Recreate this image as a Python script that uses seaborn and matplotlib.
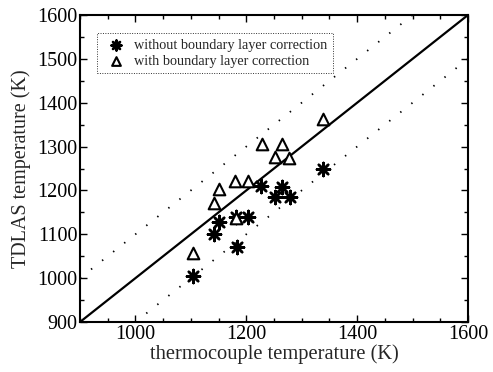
import matplotlib
matplotlib.use("Agg")
import matplotlib.pyplot as plt
import seaborn as sns
import pandas as pd
import numpy as np
from matplotlib.ticker import MultipleLocator, FixedLocator

# data
tc_without = [1103, 1141, 1151, 1182, 1203, 1183, 1227, 1264, 1251, 1278, 1339]
tdlas_without = [1005, 1100, 1129, 1140, 1140, 1072, 1209, 1207, 1184, 1184, 1249]
tc_with = [1103, 1141, 1151, 1180, 1203, 1182, 1228, 1264, 1251, 1277, 1339]
tdlas_with = [1057, 1171, 1203, 1221, 1221, 1136, 1307, 1306, 1277, 1275, 1363]
ref_x = [900, 1600]
band = 100
label_without = "without boundary layer correction"
label_with = "with boundary layer correction"

sns.set_theme(style="ticks")
plt.rcParams['font.family'] = ['Liberation Serif', 'DejaVu Serif']

fig = plt.figure(figsize=(4.93, 3.72), dpi=100)
ax = fig.add_axes([80/493, 1 - 322/372, (468-80)/493, (322-15)/372])

df_wo = pd.DataFrame({"x": tc_without, "y": tdlas_without})
df_w = pd.DataFrame({"x": tc_with, "y": tdlas_with})

rx = np.array(ref_x)
ax.plot(rx, rx, color="black", lw=1.6, zorder=2)
ax.plot(rx, rx + band, color="black", lw=1.3, ls=(0, (0.8, 7)), zorder=2)
ax.plot(rx, rx - band, color="black", lw=1.3, ls=(0, (0.8, 7)), zorder=2)

sns.scatterplot(data=df_wo, x="x", y="y", ax=ax, marker=(8, 2, 0), s=90,
                color="black", edgecolor="black", linewidth=1.8,
                label=label_without, zorder=3)
sns.scatterplot(data=df_w, x="x", y="y", ax=ax, marker="^", s=70,
                facecolor="white", edgecolor="black", linewidth=1.5,
                label=label_with, zorder=3)

ax.set_xlim(900, 1600)
ax.set_ylim(900, 1600)
ax.xaxis.set_major_locator(FixedLocator([1000, 1200, 1400, 1600]))
ax.xaxis.set_minor_locator(MultipleLocator(50))
ax.yaxis.set_major_locator(MultipleLocator(100))
ax.yaxis.set_minor_locator(MultipleLocator(50))
ax.tick_params(which="both", direction="in", top=True, right=True,
               colors="black", labelsize=14.5, width=1)
ax.tick_params(which="major", length=5, pad=2)
ax.tick_params(which="minor", length=3)
for s in ax.spines.values():
    s.set_linewidth(1.5)
    s.set_color("black")

ax.set_xlabel("thermocouple temperature (K)", fontsize=14.8, labelpad=0)
ax.set_ylabel("TDLAS temperature (K)", fontsize=14.5, labelpad=4)

leg = ax.legend(loc="upper left", fontsize=10.3,
                frameon=True, fancybox=False, handletextpad=0.4,
                borderpad=0.4, labelspacing=0.2, handlelength=1.8,
                borderaxespad=0, markerscale=0.75)
leg.set_bbox_to_anchor((17/388, 1 - 18/307), transform=ax.transAxes)
frame = leg.get_frame()
frame.set_edgecolor("black")
frame.set_linestyle((0, (1, 1.5)))
frame.set_linewidth(0.7)

fig.savefig("out.png", dpi=100)
